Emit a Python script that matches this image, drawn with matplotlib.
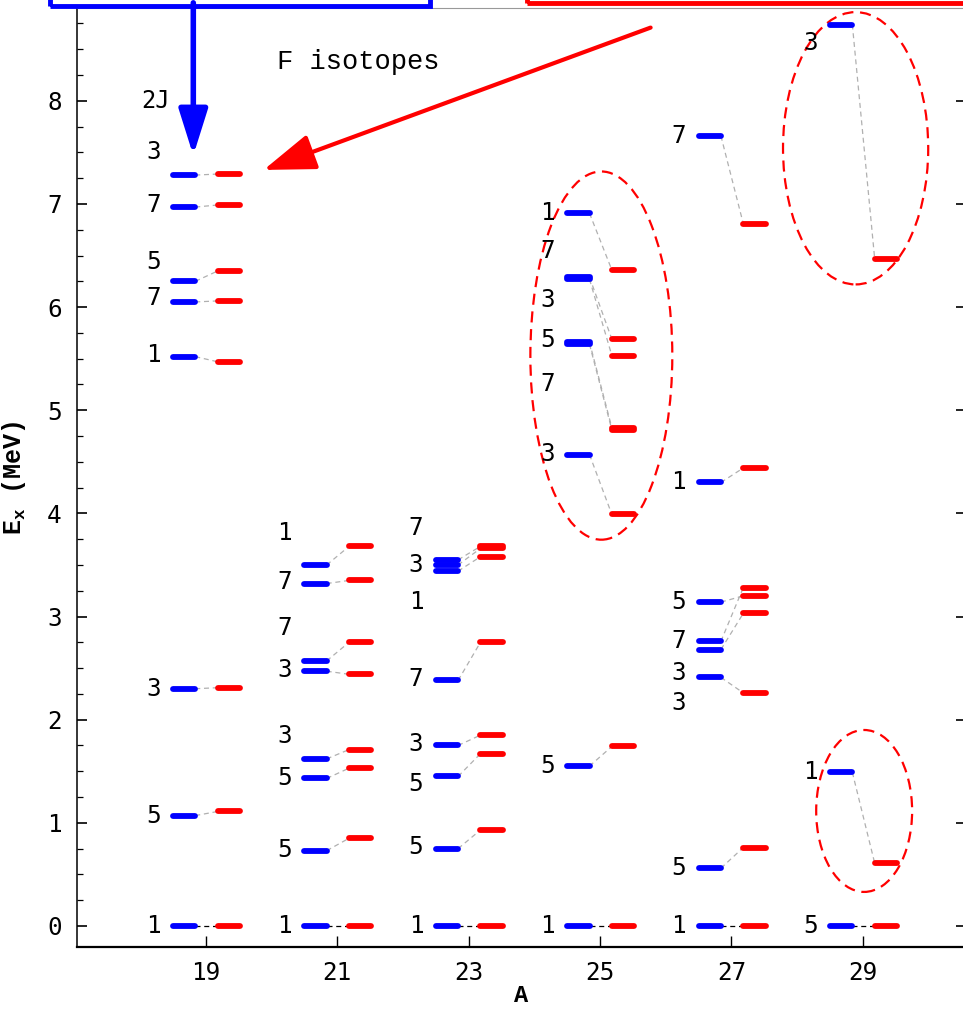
import matplotlib
matplotlib.use("Agg")
import matplotlib.pyplot as plt
from matplotlib.patches import Ellipse, Rectangle
from matplotlib.ticker import MultipleLocator

# mass numbers of the F isotopes
mass_numbers = [19, 21, 23, 25, 27, 29]

# blue levels (MeV)
blue_levels = [
    [0, 1.07, 2.30, 5.52, 6.05, 6.25, 6.97, 7.28],
    [0, 0.73, 1.43, 1.62, 2.47, 2.57, 3.32, 3.50],
    [0, 0.75, 1.45, 1.75, 2.38, 3.44, 3.50, 3.55],
    [0, 1.55, 4.57, 5.64, 5.66, 6.27, 6.29, 6.91],
    [0, 0.56, 2.41, 2.68, 2.76, 3.14, 4.30, 7.66],
    [0, 1.49, 8.74],
]
# red levels (MeV), same order as blue
red_levels = [
    [0, 1.11, 2.31, 5.47, 6.06, 6.35, 6.99, 7.29],
    [0, 0.85, 1.53, 1.71, 2.44, 2.75, 3.35, 3.68],
    [0, 0.93, 1.67, 1.85, 2.75, 3.58, 3.66, 3.68],
    [0, 1.74, 3.99, 4.81, 4.83, 5.53, 5.69, 6.36],
    [0, 0.76, 2.26, 3.03, 3.28, 3.20, 4.44, 6.81],
    [0, 0.61, 6.47],
]
# 2J labels
spins = [
    [1, 5, 3, 1, 7, 5, 7, 3],
    [1, 5, 5, 3, 3, 7, 7, 1],
    [1, 5, 5, 3, 7, 1, 3, 7],
    [1, 5, 3, 7, 5, 3, 7, 1],
    [1, 5, 3, 3, 7, 5, 1, 7],
    [5, 1, 3],
]
# where the 2J labels sit (moved apart where levels crowd)
label_y = [
    [0, 1.07, 2.30, 5.54, 6.09, 6.44, 6.99, 7.50],
    [0, 0.74, 1.43, 1.84, 2.48, 2.89, 3.33, 3.81],
    [0, 0.77, 1.38, 1.76, 2.39, 3.14, 3.50, 3.86],
    [0, 1.55, 4.58, 5.25, 5.68, 6.07, 6.54, 6.91],
    [0, 0.56, 2.16, 2.45, 2.76, 3.14, 4.30, 7.66],
    [0, 1.49, 8.56],
]

# highlighted regions: (A, E, width, height)
circled = [(25.02, 5.53, 2.16, 3.57), (28.89, 7.54, 2.21, 2.64), (29.02, 1.115, 1.46, 1.57)]

fig = plt.figure(figsize=(9.63, 10.10), dpi=100)
ax = fig.add_axes([77 / 963, 63 / 1010, 889 / 963, 939 / 1010])

off_b, off_r, hw = -0.33, 0.35, 0.17
for A, bl, rl, sp, ly in zip(mass_numbers, blue_levels, red_levels, spins, label_y):
    for b, r, s, t in zip(bl, rl, sp, ly):
        col = "black" if b == 0 else "#b0b0b0"
        ax.plot([A + off_b + hw, A + off_r - hw], [b, r], lw=0.9, color=col,
                dashes=(4, 3), zorder=1)
        ax.plot([A + off_b - hw, A + off_b + hw], [b, b], color="blue", lw=4.2,
                solid_capstyle="round", zorder=2)
        ax.plot([A + off_r - hw, A + off_r + hw], [r, r], color="red", lw=4.2,
                solid_capstyle="round", zorder=2)
        ax.text(A - 0.8, t, str(s), ha="center", va="center", fontsize=17.5,
                family="DejaVu Sans Mono")

for x, y, w, h in circled:
    ax.add_patch(Ellipse((x, y), w, h, fill=False, ec="red", lw=1.6, ls=(0, (5, 3))))

ax.text(18.24, 8.0, "2J", ha="center", va="center", fontsize=17, family="DejaVu Sans Mono")
ax.text(20.08, 8.38, "F isotopes", ha="left", va="center", fontsize=19.5,
        family="Liberation Mono")

ax.annotate("", xy=(18.81, 7.47), xytext=(18.81, 8.95), annotation_clip=False,
            arrowprops=dict(arrowstyle="-|>,head_length=0.7,head_width=0.22", lw=4,
                            color="blue", mutation_scale=40, shrinkA=0, shrinkB=0))
ax.annotate("", xy=(19.88, 7.33), xytext=(25.77, 8.71), annotation_clip=False,
            arrowprops=dict(arrowstyle="-|>,head_length=0.8,head_width=0.28", lw=3,
                            color="red", mutation_scale=40, shrinkA=0, shrinkB=0))

# boxes above the frame (cropped)
fig.patches.append(Rectangle((50 / 963, 1004 / 1010), 380 / 963, 0.05, fill=False,
                             ec="blue", lw=3.5, transform=fig.transFigure, figure=fig))
fig.patches.append(Rectangle((527 / 963, 1007 / 1010), 0.5, 0.05, fill=False,
                             ec="red", lw=3.5, transform=fig.transFigure, figure=fig))

ax.set_xlim(17.04, 30.57)
ax.set_ylim(-0.204, 8.90)
ax.set_xticks(mass_numbers)
ax.set_yticks(range(9))
ax.yaxis.set_minor_locator(MultipleLocator(0.25))
ax.tick_params(axis="x", direction="in", length=8, width=1, pad=10, labelsize=17.5, top=False)
ax.tick_params(axis="y", which="major", direction="in", length=7, width=1.2, pad=11,
               labelsize=17.5, left=True, right=True)
ax.tick_params(axis="y", which="minor", direction="in", length=4, width=0.9,
               left=True, right=False)
for lab in ax.get_xticklabels() + ax.get_yticklabels():
    lab.set_family("DejaVu Sans Mono")
ax.spines["bottom"].set_linewidth(1.6)
ax.spines["left"].set_linewidth(1.1)
ax.spines["top"].set_color("#999999")
ax.spines["right"].set_color("#999999")
ax.set_xlabel("A", fontsize=17, family="Liberation Mono", fontweight="bold", labelpad=-1)
ax.set_ylabel(r"E$_\mathregular{x}$ (MeV)", fontsize=18, family="Liberation Mono",
              fontweight="bold", labelpad=14)

fig.savefig("out.png", dpi=100)
